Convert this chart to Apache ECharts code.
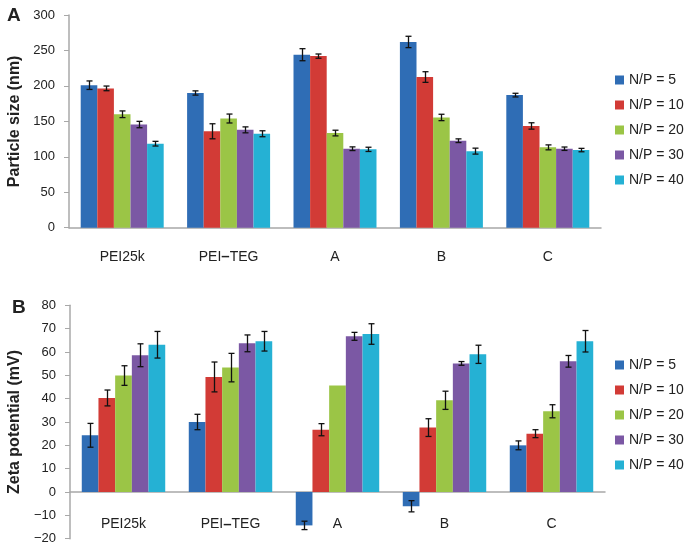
<!DOCTYPE html>
<html>
<head>
<meta charset="utf-8">
<script src="https://cdn.jsdelivr.net/npm/echarts@6/dist/echarts.min.js"></script>
<style>
html,body{margin:0;padding:0;background:#fff;}
#chart{width:687px;height:551px;}
</style>
</head>
<body>
<div id="chart"></div>
<script>
// ---- data ----
const categories = ['PEI25k', 'PEI\u2013TEG', 'A', 'B', 'C'];
const seriesNames = ['N/P = 5', 'N/P = 10', 'N/P = 20', 'N/P = 30', 'N/P = 40'];

// Panel A: particle size (nm)
const sizeNP5  = [201, 190, 244, 262, 187];
const sizeNP10 = [196.5, 136, 242, 212.5, 143.5];
const sizeNP20 = [160, 154, 133.5, 155.5, 113.3];
const sizeNP30 = [145.5, 138, 111.4, 122.7, 111.4];
const sizeNP40 = [118.5, 132.5, 110.5, 108, 109.5];
const sizeErrNP5  = [6, 3, 8.5, 8, 2.6];
const sizeErrNP10 = [3.3, 10.6, 3, 7.5, 4.5];
const sizeErrNP20 = [4.7, 6.3, 4, 4.5, 3.5];
const sizeErrNP30 = [4.5, 4.2, 2.6, 2.6, 2.4];
const sizeErrNP40 = [3.3, 4.2, 3, 4.2, 2.4];

// Panel B: zeta potential (mV)
const zetaNP5  = [24.3, 30, -14.3, -6.1, 20];
const zetaNP10 = [40.3, 49.3, 26.7, 27.6, 25];
const zetaNP20 = [49.9, 53.3, 45.6, 39.3, 34.6];
const zetaNP30 = [58.6, 63.7, 66.7, 55.1, 56];
const zetaNP40 = [63.1, 64.6, 67.7, 59, 64.6];
const zetaErrNP5  = [5.1, 3.3, 1.8, 2.4, 1.9];
const zetaErrNP10 = [3.4, 6.4, 2.6, 3.8, 1.7];
const zetaErrNP20 = [4.2, 6.1, 0, 3.9, 2.8];
const zetaErrNP30 = [4.9, 3.6, 1.7, 0.8, 2.5];
const zetaErrNP40 = [5.7, 4.2, 4.4, 3.9, 4.6];

const colors = ['#2f6db5', '#d23b36', '#9bc546', '#7b58a4', '#25b1d4'];

const sizeVals = [sizeNP5, sizeNP10, sizeNP20, sizeNP30, sizeNP40];
const sizeErrs = [sizeErrNP5, sizeErrNP10, sizeErrNP20, sizeErrNP30, sizeErrNP40];
const zetaVals = [zetaNP5, zetaNP10, zetaNP20, zetaNP30, zetaNP40];
const zetaErrs = [zetaErrNP5, zetaErrNP10, zetaErrNP20, zetaErrNP30, zetaErrNP40];

const CAT_GAP = 0.22;
const textColor = '#222';
const axisColor = '#a8a8a8';
const fontFam = '"Liberation Sans", Arial, sans-serif';

const zetaMin = -20, zetaMax = 80;
const grid2Top = 305.3, grid2Height = 233.4;

function errRender(params, api) {
  const cat = api.value(0), v = api.value(1), e = api.value(2), k = api.value(3);
  if (!e) return null;
  const band = api.size([1, 0])[0];
  const bw = band * (1 - CAT_GAP) / 5;
  const c = api.coord([cat, v]);
  const x = Math.round(c[0] + (k - 2) * bw) + 0.5;
  const yT = api.coord([cat, v + e])[1];
  const yB = api.coord([cat, v - e])[1];
  const cap = 3;
  const st = { stroke: '#111', lineWidth: 1.3 };
  return {
    type: 'group',
    children: [
      { type: 'line', shape: { x1: x, y1: yT, x2: x, y2: yB }, style: st },
      { type: 'line', shape: { x1: x - cap, y1: yT, x2: x + cap, y2: yT }, style: st },
      { type: 'line', shape: { x1: x - cap, y1: yB, x2: x + cap, y2: yB }, style: st }
    ]
  };
}

function buildSeries(vals, errs, gi) {
  const out = [];
  vals.forEach((arr, k) => {
    out.push({
      name: seriesNames[k], type: 'bar', xAxisIndex: gi, yAxisIndex: gi,
      data: arr, barGap: '0%', barCategoryGap: (CAT_GAP * 100) + '%',
      itemStyle: { color: colors[k] }, emphasis: { disabled: true }
    });
  });
  vals.forEach((arr, k) => {
    out.push({
      name: 'err' + gi + '_' + k, type: 'custom', xAxisIndex: gi, yAxisIndex: gi,
      renderItem: errRender, z: 5,
      encode: { x: 0, y: 1 },
      data: arr.map((v, i) => [i, v, errs[k][i], k])
    });
  });
  return out;
}

function catLabel(v) {
  if (v.indexOf('\u2013') >= 0) {
    const p = v.split('\u2013');
    return '{n|' + p[0] + '}{d|\u2013}{n|' + p[1] + '}';
  }
  return '{n|' + v + '}';
}

const xAxisBase = {
  type: 'category', data: categories,
  axisLine: { lineStyle: { color: axisColor, width: 1.5 } },
  axisTick: { show: false },
  axisLabel: { color: textColor, fontSize: 14, fontFamily: fontFam, margin: 22,
    interval: 0, hideOverlap: false,
    formatter: catLabel,
    rich: {
      n: { color: textColor, fontSize: 14, fontFamily: fontFam },
      d: { color: textColor, fontSize: 15, fontWeight: 'bold', fontFamily: fontFam }
    }
  }
};
const yAxisBase = {
  type: 'value',
  nameLocation: 'middle',
  nameTextStyle: { color: textColor, fontSize: 16, fontWeight: 'bold', fontFamily: fontFam },
  axisLine: { show: true, lineStyle: { color: axisColor, width: 1.5 } },
  axisTick: { show: true, length: 5, lineStyle: { color: axisColor } },
  splitLine: { show: false },
  axisLabel: { color: textColor, fontSize: 13, fontFamily: fontFam, margin: 14,
    formatter: v => String(v).replace('-', '\u2212') }
};

const legendBase = {
  orient: 'vertical', left: 610, itemWidth: 9, itemHeight: 9, itemGap: 11,
  icon: 'rect', data: seriesNames,
  textStyle: { color: textColor, fontSize: 14, fontFamily: fontFam }
};

// offset that puts the bottom category axis on the zero line
const zeroOffset = -grid2Height * (0 - zetaMin) / (zetaMax - zetaMin);

const option = {
  animation: false,
  textStyle: { fontFamily: fontFam },
  grid: [
    { left: 69, top: 15, width: 532, height: 212.7, outerBoundsMode: 'none', containLabel: false },
    { left: 70, top: grid2Top, width: 535, height: grid2Height, outerBoundsMode: 'none', containLabel: false }
  ],
  xAxis: [
    Object.assign({}, xAxisBase, { gridIndex: 0 }),
    Object.assign({}, xAxisBase, { gridIndex: 1, position: 'bottom', offset: zeroOffset,
      axisLine: { onZero: false, lineStyle: { color: axisColor, width: 1.5 } },
      axisLabel: Object.assign({}, xAxisBase.axisLabel, { margin: 25 }) })
  ],
  yAxis: [
    Object.assign({}, yAxisBase, { gridIndex: 0, min: 0, max: 300, interval: 50,
      name: 'Particle size (nm)', nameGap: 37 }),
    Object.assign({}, yAxisBase, { gridIndex: 1, min: zetaMin, max: zetaMax, interval: 10,
      name: 'Zeta potential (mV)', nameGap: 34 })
  ],
  legend: [
    Object.assign({}, legendBase, { top: 68 }),
    Object.assign({}, legendBase, { top: 353 })
  ],
  graphic: [
    { type: 'text', left: 7, top: 6, style: { text: 'A', fontSize: 19, fontWeight: 'bold', fill: textColor, fontFamily: fontFam } },
    { type: 'text', left: 12, top: 298, style: { text: 'B', fontSize: 19, fontWeight: 'bold', fill: textColor, fontFamily: fontFam } }
  ],
  series: buildSeries(sizeVals, sizeErrs, 0).concat(buildSeries(zetaVals, zetaErrs, 1))
};

const chart = echarts.init(document.getElementById('chart'), null, { renderer: 'canvas' });
chart.setOption(option);
</script>
</body>
</html>
